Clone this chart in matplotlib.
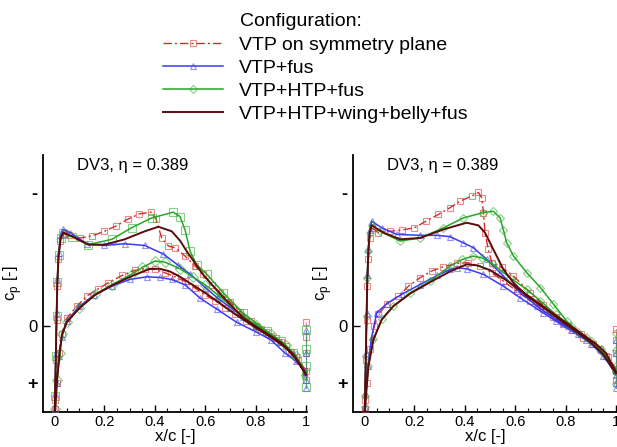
import numpy as np
import matplotlib
matplotlib.use("Agg")
import matplotlib.pyplot as plt
from matplotlib.ticker import MultipleLocator

plt.rcParams['font.family'] = ['Liberation Sans', 'DejaVu Sans']
plt.rcParams['mathtext.fontset'] = 'custom'
plt.rcParams['mathtext.rm'] = 'Liberation Sans'

# ---------------- data (x/c, cp) ----------------
LABELS = ["VTP on symmetry plane", "VTP+fus", "VTP+HTP+fus", "VTP+HTP+wing+belly+fus"]
PANEL_TITLE = "DV3, \u03b7 = 0.389"
XTICKS = [0, 0.2, 0.4, 0.6, 0.8, 1.0]
XTICK_LABELS = ["0", "0.2", "0.4", "0.6", "0.8", "1"]
YTICKS = [-1.0, 0.0, 0.42]
YTICK_LABELS = ["-", "0", "+"]

# ---- left panel ----
L_RED_UP_X = [0.0, 0.004, 0.007, 0.010, 0.013, 0.017, 0.025, 0.04, 0.06, 0.103, 0.15, 0.20, 0.246, 0.292,
              0.339, 0.385, 0.405, 0.427, 0.454, 0.48, 0.52, 0.56, 0.59, 0.626, 0.66, 0.70, 0.74, 0.78, 0.82,
              0.86, 0.90, 0.94, 0.97, 1.0]
L_RED_UP_CP = [0.9, 0.55, 0.25, -0.05, -0.3, -0.5, -0.64, -0.69, -0.68, -0.66, -0.675, -0.71, -0.75, -0.80,
               -0.84, -0.853, -0.80, -0.66, -0.60, -0.587, -0.525, -0.45, -0.39, -0.31, -0.25, -0.18, -0.11,
               -0.04, 0.02, 0.07, 0.12, 0.19, 0.25, 0.34]
L_RED_LO_X = [0.0, 0.004, 0.01, 0.02, 0.03, 0.05, 0.09, 0.13, 0.175, 0.215, 0.27, 0.32, 0.36, 0.40, 0.44,
              0.48, 0.52, 0.56, 0.60, 0.64, 0.68, 0.72, 0.76, 0.80, 0.84, 0.88, 0.92, 0.96, 1.0]
L_RED_LO_CP = [0.9, 0.62, 0.42, 0.2, 0.06, -0.06, -0.15, -0.226, -0.28, -0.326, -0.38, -0.418, -0.43, -0.425,
               -0.40, -0.37, -0.335, -0.285, -0.235, -0.19, -0.14, -0.09, -0.04, 0.0, 0.045, 0.09, 0.15, 0.23, 0.33]
L_RED_TE = [-0.03, 0.08, 0.2, 0.33, 0.4]

L_BLUE_UP_X = [0.0, 0.004, 0.007, 0.010, 0.013, 0.018, 0.026, 0.037, 0.064, 0.13, 0.20, 0.28, 0.36, 0.434,
               0.49, 0.54, 0.60, 0.65, 0.70, 0.75, 0.80, 0.85, 0.90, 0.95, 1.0]
L_BLUE_UP_CP = [0.9, 0.5, 0.2, -0.1, -0.35, -0.55, -0.68, -0.724, -0.70, -0.617, -0.604, -0.617, -0.604, -0.54,
                -0.46, -0.39, -0.29, -0.21, -0.14, -0.07, 0.0, 0.06, 0.12, 0.2, 0.35]
L_BLUE_LO_X = [0.0, 0.004, 0.01, 0.02, 0.03, 0.05, 0.10, 0.16, 0.23, 0.30, 0.368, 0.42, 0.467, 0.52, 0.58,
               0.645, 0.725, 0.80, 0.86, 0.917, 0.96, 1.0]
L_BLUE_LO_CP = [0.9, 0.62, 0.42, 0.22, 0.08, -0.04, -0.15, -0.235, -0.3, -0.35, -0.37, -0.365, -0.35, -0.31,
                -0.21, -0.13, -0.03, 0.04, 0.1, 0.2, 0.26, 0.34]
L_BLUE_TE = [0.03, 0.2, 0.4, 0.46]

L_GREEN_UP_X = [0.0, 0.004, 0.007, 0.010, 0.013, 0.018, 0.026, 0.037, 0.07, 0.136, 0.229, 0.308, 0.388, 0.473,
                0.50, 0.52, 0.54, 0.566, 0.606, 0.672, 0.75, 0.844, 0.90, 0.95, 1.0]
L_GREEN_UP_CP = [0.9, 0.52, 0.22, -0.08, -0.33, -0.53, -0.66, -0.70, -0.67, -0.61, -0.65, -0.737, -0.81, -0.853,
                 -0.82, -0.72, -0.56, -0.46, -0.39, -0.25, -0.10, 0.035, 0.11, 0.2, 0.36]
L_GREEN_LO_X = [0.0, 0.004, 0.012, 0.022, 0.032, 0.05, 0.10, 0.163, 0.229, 0.308, 0.35, 0.40, 0.44, 0.50, 0.55,
                0.60, 0.66, 0.72, 0.80, 0.86, 0.92, 0.96, 1.0]
L_GREEN_LO_CP = [0.9, 0.62, 0.4, 0.2, 0.06, -0.03, -0.14, -0.24, -0.31, -0.39, -0.44, -0.488, -0.48, -0.43,
                 -0.37, -0.31, -0.22, -0.12, -0.01, 0.06, 0.14, 0.22, 0.36]
L_GREEN_TE = [0.03, 0.17, 0.3, 0.45]

L_BROWN_UP_X = [0.0, 0.004, 0.007, 0.010, 0.013, 0.018, 0.026, 0.037, 0.07, 0.136, 0.20, 0.28, 0.36, 0.414,
                0.467, 0.50, 0.527, 0.59, 0.66, 0.75, 0.80, 0.85, 0.90, 0.95, 1.0]
L_BROWN_UP_CP = [0.9, 0.52, 0.22, -0.08, -0.33, -0.53, -0.66, -0.70, -0.674, -0.61, -0.61, -0.65, -0.71, -0.744,
                 -0.71, -0.64, -0.56, -0.39, -0.24, -0.065, 0.0, 0.06, 0.12, 0.21, 0.36]
L_BROWN_LO_X = [0.0, 0.004, 0.012, 0.022, 0.032, 0.05, 0.10, 0.163, 0.229, 0.308, 0.381, 0.42, 0.46, 0.50, 0.55,
                0.60, 0.66, 0.72, 0.80, 0.86, 0.92, 0.96, 1.0]
L_BROWN_LO_CP = [0.9, 0.62, 0.4, 0.2, 0.06, -0.03, -0.135, -0.235, -0.305, -0.375, -0.43, -0.43, -0.41, -0.37,
                 -0.31, -0.25, -0.17, -0.09, 0.01, 0.08, 0.16, 0.24, 0.36]

# ---- right panel ----
R_RED_UP_X = [0.0, 0.004, 0.007, 0.010, 0.013, 0.017, 0.022, 0.03, 0.057, 0.103, 0.15, 0.20, 0.246, 0.295,
              0.341, 0.381, 0.427, 0.454, 0.467, 0.474, 0.48, 0.493, 0.507, 0.546, 0.593, 0.659, 0.71, 0.76,
              0.81, 0.86, 0.91, 0.96, 1.0]
R_RED_UP_CP = [0.9, 0.55, 0.25, -0.05, -0.3, -0.5, -0.66, -0.736, -0.70, -0.71, -0.72, -0.736, -0.786, -0.836,
               -0.886, -0.935, -0.973, -1.0, -0.96, -0.85, -0.70, -0.575, -0.475, -0.44, -0.376, -0.25, -0.16,
               -0.07, 0.0, 0.06, 0.13, 0.22, 0.33]
R_RED_LO_X = [0.0, 0.004, 0.01, 0.024, 0.04, 0.057, 0.09, 0.136, 0.176, 0.222, 0.268, 0.315, 0.368, 0.414,
              0.46, 0.507, 0.553, 0.606, 0.659, 0.71, 0.75, 0.79, 0.83, 0.87, 0.937, 0.97, 1.0]
R_RED_LO_CP = [0.9, 0.62, 0.42, 0.17, 0.0, -0.09, -0.164, -0.226, -0.30, -0.363, -0.413, -0.445, -0.47, -0.475,
               -0.45, -0.40, -0.338, -0.264, -0.19, -0.127, -0.07, -0.027, 0.03, 0.085, 0.17, 0.23, 0.32]
R_RED_TE = [0.02, 0.1, 0.2, 0.33, 0.4]

R_BLUE_UP_X = [0.0, 0.004, 0.007, 0.010, 0.013, 0.017, 0.022, 0.03, 0.07, 0.13, 0.222, 0.288, 0.341, 0.394,
               0.434, 0.487, 0.54, 0.606, 0.685, 0.79, 0.85, 0.90, 0.95, 1.0]
R_BLUE_UP_CP = [0.9, 0.5, 0.2, -0.1, -0.38, -0.58, -0.72, -0.786, -0.736, -0.687, -0.68, -0.68, -0.67, -0.624,
                -0.587, -0.50, -0.40, -0.276, -0.152, -0.015, 0.06, 0.13, 0.22, 0.36]
R_BLUE_LO_X = [0.0, 0.004, 0.015, 0.03, 0.05, 0.09, 0.15, 0.22, 0.29, 0.341, 0.368, 0.407, 0.474, 0.553, 0.619,
               0.712, 0.76, 0.82, 0.88, 0.94, 1.0]
R_BLUE_LO_CP = [0.9, 0.6, 0.3, 0.08, -0.1, -0.17, -0.24, -0.31, -0.38, -0.425, -0.438, -0.43, -0.388, -0.30,
                -0.214, -0.10, -0.04, 0.03, 0.1, 0.18, 0.33]
R_BLUE_TE = [0.1, 0.2, 0.42, 0.46]

R_GREEN_UP_X = [0.0, 0.004, 0.007, 0.010, 0.013, 0.017, 0.022, 0.03, 0.063, 0.143, 0.222, 0.315, 0.394, 0.474,
                0.513, 0.54, 0.553, 0.566, 0.593, 0.646, 0.70, 0.75, 0.804, 0.85, 0.90, 0.95, 1.0]
R_GREEN_UP_CP = [0.9, 0.52, 0.22, -0.08, -0.36, -0.56, -0.7, -0.76, -0.71, -0.637, -0.66, -0.736, -0.81, -0.85,
                 -0.86, -0.81, -0.72, -0.624, -0.525, -0.40, -0.29, -0.17, -0.04, 0.04, 0.11, 0.2, 0.34]
R_GREEN_LO_X = [0.0, 0.004, 0.017, 0.037, 0.07, 0.116, 0.183, 0.262, 0.341, 0.39, 0.434, 0.47, 0.513, 0.579,
                0.646, 0.70, 0.76, 0.82, 0.88, 0.94, 1.0]
R_GREEN_LO_CP = [0.9, 0.6, 0.296, 0.097, -0.052, -0.152, -0.25, -0.338, -0.45, -0.50, -0.525, -0.51, -0.463,
                 -0.363, -0.276, -0.19, -0.09, 0.0, 0.08, 0.17, 0.33]
R_GREEN_TE = [0.05, 0.18, 0.3, 0.43]

R_BROWN_UP_X = [0.0, 0.004, 0.007, 0.010, 0.013, 0.017, 0.022, 0.03, 0.077, 0.143, 0.222, 0.315, 0.407, 0.454,
                0.48, 0.513, 0.553, 0.593, 0.646, 0.712, 0.79, 0.85, 0.90, 0.95, 1.0]
R_BROWN_UP_CP = [0.9, 0.52, 0.22, -0.08, -0.36, -0.56, -0.7, -0.754, -0.70, -0.65, -0.66, -0.724, -0.774, -0.754,
                 -0.70, -0.575, -0.425, -0.326, -0.226, -0.14, -0.03, 0.05, 0.12, 0.21, 0.35]
R_BROWN_LO_X = [0.0, 0.004, 0.017, 0.037, 0.07, 0.116, 0.183, 0.262, 0.341, 0.407, 0.45, 0.50, 0.56, 0.62, 0.68,
                0.74, 0.80, 0.86, 0.92, 0.96, 1.0]
R_BROWN_LO_CP = [0.9, 0.6, 0.3, 0.1, -0.05, -0.15, -0.245, -0.33, -0.41, -0.463, -0.455, -0.42, -0.35, -0.27,
                 -0.19, -0.11, -0.03, 0.05, 0.13, 0.2, 0.34]

# ---------------- styles ----------------
RED, BLUE, GREEN, BROWN = "#d92a2a", "#3b3bf5", "#25a825", "#5c0b0b"
DASHDOT = (0, (6, 2.2, 1.5, 2.2))


def rgba(c, a):
    c = matplotlib.colors.to_rgba(c)
    return (c[0], c[1], c[2], a)


fig = plt.figure(figsize=(6.17, 4.47), dpi=100)
W, H = 617.0, 447.0
ax1 = fig.add_axes([43 / W, 1 - 412 / H, 264 / W, 257 / H])
ax2 = fig.add_axes([353 / W, 1 - 412 / H, 264 / W, 257 / H])


def contour(xu, cu, xl, cl):
    return list(xu[::-1]) + list(xl), list(cu[::-1]) + list(cl)


def series(ax, xu, cu, xl, cl, te, color, ls, lw, mk, ms, mk_lo=None, label=None):
    x, c = contour(xu, cu, xl, cl)
    mec = rgba(color, 0.55)
    if mk_lo is None:
        h, = ax.plot(x, c, color=color, ls=ls, lw=lw, marker=mk, ms=ms, mfc='none', mec=mec, mew=0.8,
                     label=label, zorder=3)
    else:
        h, = ax.plot(x, c, color=color, ls=ls, lw=lw, zorder=3)
        ax.plot(xu, cu, ls='none', marker=mk, ms=ms, mfc='none', mec=mec, mew=0.8, zorder=3)
        ax.plot(xl, cl, ls='none', marker=mk_lo, ms=ms - 0.5, mfc='none', mec=mec, mew=0.8, zorder=3)
    if te is not None:
        ax.plot(np.full(len(te), 1.0), te, color=rgba(color, 0.5), ls=ls, lw=0.8, marker=mk,
                ms=ms, mfc='none', mec=mec, mew=0.8, clip_on=False, zorder=3)
    return h


# left panel
series(ax1, L_RED_UP_X, L_RED_UP_CP, L_RED_LO_X, L_RED_LO_CP, L_RED_TE, RED, DASHDOT, 1.0, 's', 5)
series(ax1, L_BLUE_UP_X, L_BLUE_UP_CP, L_BLUE_LO_X, L_BLUE_LO_CP, L_BLUE_TE, BLUE, '-', 1.1, '^', 5)
series(ax1, L_GREEN_UP_X, L_GREEN_UP_CP, L_GREEN_LO_X, L_GREEN_LO_CP, L_GREEN_TE, GREEN, '-', 1.1, 's', 5.5,
       mk_lo='D')
series(ax1, L_BROWN_UP_X, L_BROWN_UP_CP, L_BROWN_LO_X, L_BROWN_LO_CP, None, BROWN, '-', 1.4, 'None', 5)

# right panel
h1 = series(ax2, R_RED_UP_X, R_RED_UP_CP, R_RED_LO_X, R_RED_LO_CP, R_RED_TE, RED, DASHDOT, 1.0, 's', 5,
            label=LABELS[0])
h2 = series(ax2, R_BLUE_UP_X, R_BLUE_UP_CP, R_BLUE_LO_X, R_BLUE_LO_CP, R_BLUE_TE, BLUE, '-', 1.1, '^', 5,
            label=LABELS[1])
h3 = series(ax2, R_GREEN_UP_X, R_GREEN_UP_CP, R_GREEN_LO_X, R_GREEN_LO_CP, R_GREEN_TE, GREEN, '-', 1.1, 'D', 4.5,
            label=LABELS[2])
h4 = series(ax2, R_BROWN_UP_X, R_BROWN_UP_CP, R_BROWN_LO_X, R_BROWN_LO_CP, None, BROWN, '-', 1.4, 'None', 5,
            label=LABELS[3])

for ax in (ax1, ax2):
    ax.set_xlim(-0.044, 1.004)
    ax.set_ylim(0.64, -1.28)
    for s in ('top', 'right'):
        ax.spines[s].set_visible(False)
    for s in ('left', 'bottom'):
        ax.spines[s].set_linewidth(1.3)
    ax.set_xticks(XTICKS)
    ax.set_xticklabels(XTICK_LABELS)
    ax.xaxis.set_minor_locator(MultipleLocator(0.05))
    ax.tick_params(axis='x', which='major', direction='in', length=5, width=1, labelsize=10.5, pad=2.5)
    ax.tick_params(axis='x', which='minor', direction='in', length=3, width=0.8)
    ax.set_yticks(YTICKS)
    ax.set_yticklabels(YTICK_LABELS)
    ax.tick_params(axis='y', which='major', direction='in', length=5, width=1, labelsize=12, pad=4)
    ticks = ax.yaxis.get_major_ticks()
    for i in (0, 2):
        ticks[i].tick1line.set_visible(False)
        ticks[i].label1.set_fontweight('bold')
        ticks[i].label1.set_fontsize(13)
    ax.set_xlabel("x/c [-]", fontsize=12)
    ax.xaxis.set_label_coords(0.5, -(429 - 412) / 257)
    ax.set_ylabel("c$_{\\mathregular{p}}$ [-]", fontsize=12)
    ax.yaxis.set_label_coords(-(43 - 24) / 264, 0.5)
    ax.text(0.129, 0.961, PANEL_TITLE, transform=ax.transAxes, fontsize=12, ha='left', va='center')

fig.text(240 / W, 1 - 22 / H, "Configuration:", fontsize=14, ha='left', va='center')
fig.legend(handles=[h1, h2, h3, h4], labels=LABELS, loc='upper left',
           bbox_to_anchor=(163 / W, 1 - 36 / H), frameon=False, fontsize=14, handlelength=3.1,
           handletextpad=0.8, labelspacing=0.28, borderpad=0, borderaxespad=0, numpoints=1)

fig.savefig("out.png", dpi=100)
